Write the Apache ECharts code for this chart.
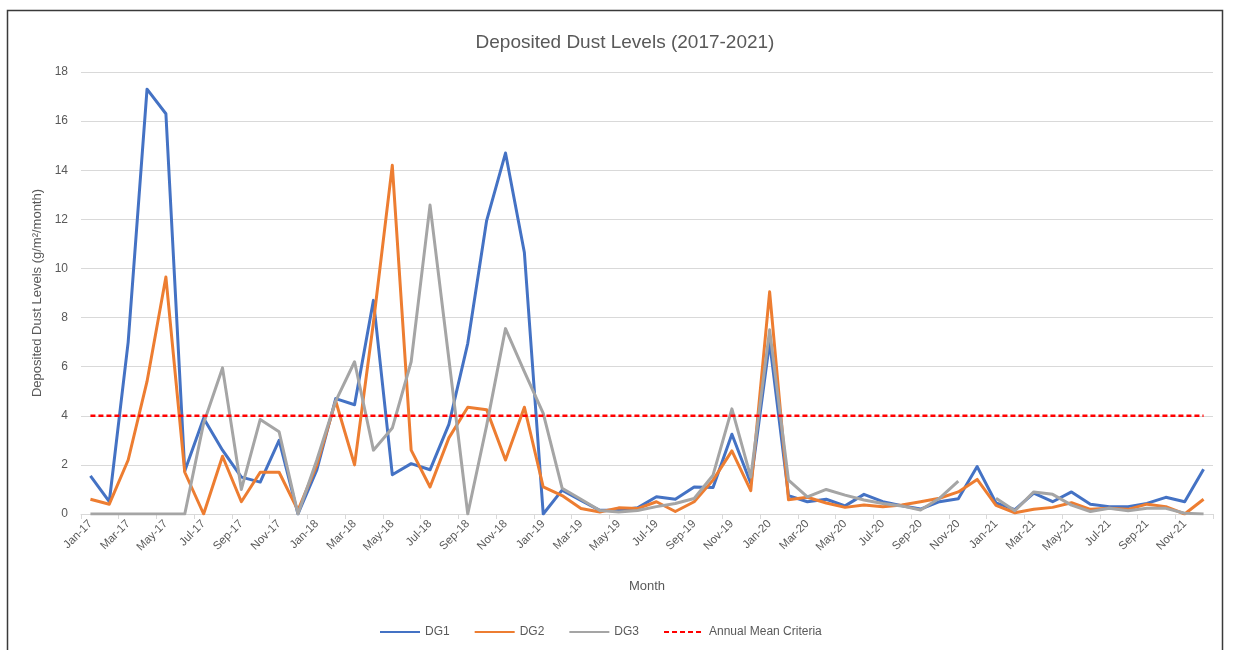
<!DOCTYPE html>
<html>
<head>
<meta charset="utf-8">
<title>Deposited Dust Levels (2017-2021)</title>
<script src="https://cdn.jsdelivr.net/npm/echarts@6/dist/echarts.min.js"></script>
<style>
  html, body { margin: 0; padding: 0; background: #ffffff; }
  #chart { width: 1233px; height: 650px; }
</style>
</head>
<body>
<div id="chart"></div>
<script>
// Monthly sampling periods, Jan 2017 – Dec 2021
const months = [
  'Jan-17','Feb-17','Mar-17','Apr-17','May-17','Jun-17','Jul-17','Aug-17','Sep-17','Oct-17','Nov-17','Dec-17',
  'Jan-18','Feb-18','Mar-18','Apr-18','May-18','Jun-18','Jul-18','Aug-18','Sep-18','Oct-18','Nov-18','Dec-18',
  'Jan-19','Feb-19','Mar-19','Apr-19','May-19','Jun-19','Jul-19','Aug-19','Sep-19','Oct-19','Nov-19','Dec-19',
  'Jan-20','Feb-20','Mar-20','Apr-20','May-20','Jun-20','Jul-20','Aug-20','Sep-20','Oct-20','Nov-20','Dec-20',
  'Jan-21','Feb-21','Mar-21','Apr-21','May-21','Jun-21','Jul-21','Aug-21','Sep-21','Oct-21','Nov-21','Dec-21'
];

// Deposited dust, g/m²/month, per gauge
const dg1 = [
  1.55, 0.5, 7.0, 17.3, 16.3, 1.75, 3.9, 2.6, 1.5, 1.3, 3.0, 0.0,
  1.8, 4.7, 4.45, 8.7, 1.6, 2.05, 1.8, 3.65, 6.95, 11.95, 14.7, 10.65,
  0.0, 0.97, 0.55, 0.15, 0.15, 0.25, 0.7, 0.6, 1.1, 1.08, 3.25, 1.25,
  7.0, 0.75, 0.5, 0.6, 0.33, 0.8, 0.5, 0.34, 0.2, 0.5, 0.62, 1.93,
  0.45, 0.18, 0.85, 0.5, 0.9, 0.4, 0.3, 0.3, 0.43, 0.68, 0.5, 1.82
];
const dg2 = [
  0.6, 0.4, 2.2, 5.4, 9.65, 1.7, 0.0, 2.35, 0.5, 1.7, 1.7, 0.15,
  2.0, 4.6, 2.0, 7.8, 14.2, 2.6, 1.1, 3.1, 4.35, 4.25, 2.2, 4.35,
  1.1, 0.75, 0.22, 0.08, 0.25, 0.22, 0.5, 0.1, 0.5, 1.38, 2.57, 0.95,
  9.05, 0.58, 0.68, 0.45, 0.27, 0.37, 0.3, 0.37, 0.5, 0.64, 0.9, 1.41,
  0.35, 0.05, 0.19, 0.27, 0.46, 0.19, 0.23, 0.19, 0.4, 0.3, 0.0, 0.6
];
const dg3 = [
  0.0, 0.0, 0.0, 0.0, 0.0, 0.0, 3.7, 5.95, 1.0, 3.85, 3.35, 0.0,
  2.2, 4.6, 6.2, 2.6, 3.5, 6.2, 12.58, 6.3, 0.0, 3.6, 7.55, 5.8,
  4.1, 1.05, 0.6, 0.14, 0.08, 0.14, 0.3, 0.43, 0.63, 1.58, 4.28, 1.5,
  7.5, 1.38, 0.7, 1.0, 0.77, 0.57, 0.43, 0.33, 0.16, 0.64, 1.34, null,
  0.64, 0.13, 0.9, 0.8, 0.36, 0.1, 0.23, 0.13, 0.23, 0.23, 0.03, 0.0
];

// Annual mean criterion for deposited dust (g/m²/month)
const annualMeanCriteria = 4;
const criteriaLine = months.map(() => annualMeanCriteria);

const yTicks = { min: 0, max: 18, interval: 2 };

const FONT = "'Liberation Sans', 'DejaVu Sans', sans-serif";
const TEXT = '#595959';

const chart = echarts.init(document.getElementById('chart'), null, { renderer: 'canvas' });

function lineSeries(name, data, color) {
  return {
    name: name,
    type: 'line',
    data: data,
    showSymbol: false,
    symbol: 'none',
    connectNulls: false,
    lineStyle: { color: color, width: 3, join: 'round' },
    itemStyle: { color: color },
    emphasis: { disabled: true },
    z: 2
  };
}

chart.setOption({
  animation: false,
  backgroundColor: '#ffffff',
  title: {
    text: 'Deposited Dust Levels (2017-2021)',
    left: 620,
    textAlign: 'center',
    top: 28,
    textStyle: { fontFamily: FONT, fontSize: 19, fontWeight: 'normal', color: TEXT }
  },
  graphic: [{
    type: 'rect',
    shape: { x: 7.5, y: 10.5, width: 1215, height: 700 },
    style: { fill: 'none', stroke: '#3a3a3a', lineWidth: 1.5 },
    silent: true
  }],
  grid: { left: 81, right: 20, top: 72, bottom: 136, containLabel: false },
  legend: {
    left: 374,
    top: 621,
    itemWidth: 40,
    itemHeight: 14,
    itemGap: 24,
    itemStyle: { opacity: 0 },
    textStyle: { fontFamily: FONT, fontSize: 12, color: TEXT },
    data: ['DG1', 'DG2', 'DG3', 'Annual Mean Criteria']
  },
  xAxis: {
    type: 'category',
    data: months,
    boundaryGap: true,
    name: 'Month',
    nameLocation: 'middle',
    nameGap: 66,
    nameTextStyle: { fontFamily: FONT, fontSize: 13, color: TEXT },
    axisLine: { show: true, lineStyle: { color: '#d9d9d9', width: 1 } },
    axisTick: { show: true, interval: 1, length: 5, lineStyle: { color: '#d9d9d9' } },
    axisLabel: {
      interval: 1,
      rotate: 45,
      margin: 8,
      fontFamily: FONT,
      fontSize: 11.5,
      color: TEXT
    },
    splitLine: { show: false }
  },
  yAxis: {
    type: 'value',
    min: yTicks.min,
    max: yTicks.max,
    interval: yTicks.interval,
    name: 'Deposited Dust Levels (g/m²/month)',
    nameLocation: 'middle',
    nameGap: 36,
    nameTextStyle: { fontFamily: FONT, fontSize: 13, color: TEXT },
    axisLine: { show: false },
    axisTick: { show: false },
    axisLabel: { margin: 13, fontFamily: FONT, fontSize: 12, color: TEXT },
    splitLine: { show: true, lineStyle: { color: '#d9d9d9', width: 1 } }
  },
  series: [
    lineSeries('DG1', dg1, '#4472C4'),
    lineSeries('DG2', dg2, '#ED7D31'),
    lineSeries('DG3', dg3, '#A5A5A5'),
    {
      name: 'Annual Mean Criteria',
      type: 'line',
      data: criteriaLine,
      showSymbol: false,
      symbol: 'none',
      lineStyle: { color: '#FF0000', width: 2.5, type: [5, 3] },
      itemStyle: { color: '#FF0000' },
      emphasis: { disabled: true },
      z: 3
    }
  ]
});
</script>
</body>
</html>
